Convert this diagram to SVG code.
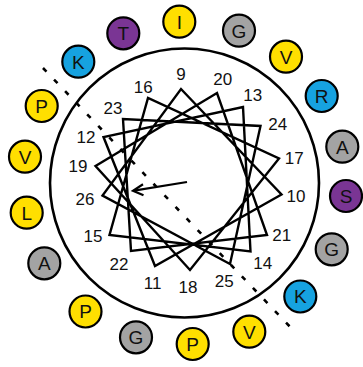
<svg xmlns="http://www.w3.org/2000/svg" width="363" height="367" viewBox="0 0 363 367">
<style>
.res circle{stroke:#000;stroke-width:2.2}
.res text{font-family:"Liberation Sans",Arial,sans-serif;font-size:19px;text-anchor:middle;fill:#111}
.y{fill:#FFDF00}.g{fill:#A3A3A3}.b{fill:#16A2E0}.p{fill:#7A3594}
.num{font-family:"Liberation Sans",Arial,sans-serif;font-size:17px;text-anchor:middle;fill:#111}
.ln{fill:none;stroke:#000;stroke-width:2.4;stroke-linejoin:miter}
</style>
<rect width="363" height="367" fill="#fff"/>
<circle id="wheel" cx="184.5" cy="183" r="134.5" fill="none" stroke="#000" stroke-width="2.6"/>
<g id="connectors">
<polygon class="ln" points="181,89 281.5,194.5 155,266 103.5,137 243,107 250.5,251.5 109.5,235 148,98 279,158.5 190,270 95.5,166 217,93 267,235 131,251 123,119 260.5,126 230,264 102.5,195.5"/>
<line x1="43" y1="68" x2="295" y2="332" stroke="#000" stroke-width="2.6" stroke-dasharray="5 11"/>
<line x1="187" y1="182" x2="134" y2="190.6" stroke="#000" stroke-width="2.2"/>
<path d="M143,184.3 L133,190.7 L143.5,195.2" fill="none" stroke="#000" stroke-width="2.2"/>
</g>
<g id="labels">
<text class="num" x="181" y="80">9</text>
<text class="num" x="222.7" y="85">20</text>
<text class="num" x="252.7" y="101">13</text>
<text class="num" x="277.7" y="130">24</text>
<text class="num" x="294.3" y="164.3">17</text>
<text class="num" x="296" y="202">10</text>
<text class="num" x="281.7" y="241.3">21</text>
<text class="num" x="262.7" y="269">14</text>
<text class="num" x="224.3" y="287.3">25</text>
<text class="num" x="188" y="292.6">18</text>
<text class="num" x="152.7" y="289">11</text>
<text class="num" x="119" y="270">22</text>
<text class="num" x="93" y="241.6">15</text>
<text class="num" x="85" y="204.6">26</text>
<text class="num" x="78" y="172.3">19</text>
<text class="num" x="86" y="142.6">12</text>
<text class="num" x="113" y="113.6">23</text>
<text class="num" x="143.3" y="92.6">16</text>
</g>
<g id="r1" class="res"><circle class="y" cx="179.3" cy="21.7" r="16"/><text x="179.3" y="28.5">I</text></g>
<g id="r2" class="res"><circle class="g" cx="239" cy="30.7" r="16"/><text x="239" y="37.5">G</text></g>
<g id="r3" class="res"><circle class="y" cx="286" cy="56.7" r="16"/><text x="286" y="63.5">V</text></g>
<g id="r4" class="res"><circle class="b" cx="321.7" cy="96" r="16"/><text x="321.7" y="102.8">R</text></g>
<g id="r5" class="res"><circle class="g" cx="342.3" cy="146.7" r="16"/><text x="342.3" y="153.5">A</text></g>
<g id="r6" class="res"><circle class="p" cx="346" cy="196" r="16"/><text x="346" y="202.8">S</text></g>
<g id="r7" class="res"><circle class="g" cx="331.7" cy="249.3" r="16"/><text x="331.7" y="256.1">G</text></g>
<g id="r8" class="res"><circle class="b" cx="300.3" cy="296.5" r="16"/><text x="300.3" y="303.3">K</text></g>
<g id="r9" class="res"><circle class="y" cx="249.3" cy="331.7" r="16"/><text x="249.3" y="338.5">V</text></g>
<g id="r10" class="res"><circle class="y" cx="192.7" cy="344" r="16"/><text x="192.7" y="350.8">P</text></g>
<g id="r11" class="res"><circle class="g" cx="136" cy="337.3" r="16"/><text x="136" y="344.1">G</text></g>
<g id="r12" class="res"><circle class="y" cx="85.5" cy="311.5" r="16"/><text x="85.5" y="318.3">P</text></g>
<g id="r13" class="res"><circle class="g" cx="44.3" cy="263.3" r="16"/><text x="44.3" y="270.1">A</text></g>
<g id="r14" class="res"><circle class="y" cx="26.7" cy="212.7" r="16"/><text x="26.7" y="219.5">L</text></g>
<g id="r15" class="res"><circle class="y" cx="25" cy="156.7" r="16"/><text x="25" y="163.5">V</text></g>
<g id="r16" class="res"><circle class="y" cx="41.7" cy="106" r="16"/><text x="41.7" y="112.8">P</text></g>
<g id="r17" class="res"><circle class="b" cx="78.3" cy="61.7" r="16"/><text x="78.3" y="68.5">K</text></g>
<g id="r18" class="res"><circle class="p" cx="123.3" cy="33.3" r="16"/><text x="123.3" y="40.1">T</text></g>
</svg>
